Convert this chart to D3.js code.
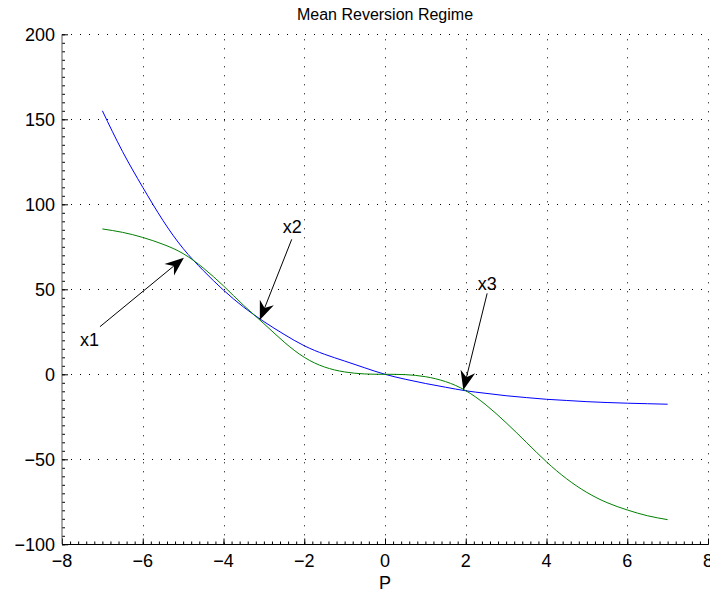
<!DOCTYPE html>
<html>
<head>
<meta charset="utf-8">
<script src="https://cdn.jsdelivr.net/npm/d3@7"></script>
<style>
    body { margin: 0; background: #fff; }
    svg { display: block; font-family: "Liberation Sans", Arial, sans-serif; }
</style>
</head>
<body>
<div id="chart"></div>
<script>
// values
const pValues = [-7, -6.5, -6, -5.5, -5, -4.5, -4, -3.5, -3, -2.5, -2, -1.5, -1, -0.5, 0,
    0.5, 1, 1.5, 2, 2.5, 3, 3.5, 4, 4.5, 5, 5.5, 6, 6.5, 7];
const blueValues = [155, 131, 110, 90.5, 74, 61, 49.5, 39.5, 31, 23.5, 16.8, 11.8, 7.8, 3.8, 0,
    -2.9, -5.4, -7.6, -9.7, -11.2, -12.6, -13.7, -14.7, -15.4, -16.1, -16.6, -17, -17.3, -17.6];
const greenValues = [85.5, 83.5, 80.5, 76.5, 71, 62.5, 52, 40.5, 29.8, 19, 10, 4.3, 1.4, 0.2, 0,
    -0.2, -1.4, -4.3, -9.6, -18, -28.5, -40, -51.5, -61.5, -69.5, -75.5, -79.8, -83.2, -85.5];

const xTicks = [-8, -6, -4, -2, 0, 2, 4, 6, 8];
const yTicks = [-100, -50, 0, 50, 100, 150, 200];

// annotations (data coordinates)
const annLabels = ["x1", "x2", "x3"];
const annTip = [[-4.98, 68.6], [-3.10, 31.9], [1.94, -9.2]];
const annTail = [[-7.06, 28], [-2.31, 79.4], [2.53, 47.6]];
const annText = [[-7.32, 20.2], [-2.30, 86.8], [2.53, 53.5]];

function drawChart() {
    const width = 710;
    const height = 597;
    const margin = { top: 34.3, right: 2, bottom: 52.7, left: 62 };

    const x = d3.scaleLinear()
        .domain([-8, 8])
        .range([margin.left, width - margin.right]);
    const y = d3.scaleLinear()
        .domain([-100, 200])
        .range([height - margin.bottom, margin.top]);

    const svg = d3.select("#chart").append("svg")
        .attr("width", width)
        .attr("height", height);

    svg.append("rect")
        .attr("width", width)
        .attr("height", height)
        .attr("fill", "white");

    // dotted grid
    const grid = svg.append("g")
        .attr("stroke", "#000")
        .attr("stroke-width", 1)
        .attr("stroke-dasharray", "1,8");
    grid.selectAll("line.vx")
        .data(xTicks.slice(1))
        .join("line")
        .attr("x1", d => Math.round(x(d)) + 0.5)
        .attr("x2", d => Math.round(x(d)) + 0.5)
        .attr("y1", y(-100))
        .attr("y2", y(200));
    grid.selectAll("line.hy")
        .data(yTicks.slice(1))
        .join("line")
        .attr("y1", d => Math.round(y(d)) + 0.5)
        .attr("y2", d => Math.round(y(d)) + 0.5)
        .attr("x1", x(-8))
        .attr("x2", x(8));

    // axes (ticks inward, MATLAB style)
    const xAxis = g => g
        .attr("transform", `translate(0,${Math.round(y(-100)) + 0.5})`)
        .call(d3.axisTop(x).tickValues(xTicks).tickSize(6).tickFormat(""))
        .call(g => g.select(".domain").attr("d", `M${x(-8)},0H${x(8)}`));

    const xMinor = g => g
        .attr("transform", `translate(0,${Math.round(y(-100)) + 0.5})`)
        .call(d3.axisTop(x).ticks(80).tickSize(3).tickFormat(""))
        .call(g => g.select(".domain").remove());

    const yAxis = g => g
        .attr("transform", `translate(${x(-8)},0)`)
        .call(d3.axisRight(y).tickValues(yTicks).tickSize(6).tickFormat(""))
        .call(g => g.select(".domain").attr("d", `M0,${y(-100)}V${y(200)}`).attr("stroke", "#555"));

    const yMinor = g => g
        .attr("transform", `translate(${x(-8)},0)`)
        .call(d3.axisRight(y).ticks(60).tickSize(3).tickFormat(""))
        .call(g => g.select(".domain").remove());

    svg.append("g").call(xMinor);
    svg.append("g").call(yMinor);
    svg.append("g").call(xAxis);
    svg.append("g").call(yAxis);

    // tick labels
    const fmt = d => d < 0 ? "\u2212" + Math.abs(d) : String(d);
    svg.append("g")
        .attr("font-size", 18)
        .attr("text-anchor", "middle")
        .selectAll("text")
        .data(xTicks)
        .join("text")
        .attr("x", d => x(d))
        .attr("y", y(-100) + 23)
        .text(fmt);

    svg.append("g")
        .attr("font-size", 18)
        .attr("text-anchor", "end")
        .selectAll("text")
        .data(yTicks)
        .join("text")
        .attr("x", x(-8) - 7)
        .attr("y", d => y(d))
        .attr("dy", "0.36em")
        .text(fmt);

    // labels
    svg.append("text")
        .attr("x", x(0))
        .attr("y", y(-100) + 45)
        .attr("text-anchor", "middle")
        .attr("font-size", 18)
        .text("P");

    svg.append("text")
        .attr("x", x(0))
        .attr("y", 20)
        .attr("text-anchor", "middle")
        .attr("font-size", 16)
        .text("Mean Reversion Regime");

    // curves
    const line = d3.line()
        .x(d => x(d[0]))
        .y(d => y(d[1]))
        .curve(d3.curveNatural);

    svg.append("path")
        .datum(d3.zip(pValues, blueValues))
        .attr("fill", "none")
        .attr("stroke", "#0000ff")
        .attr("stroke-width", 1)
        .attr("d", line);

    svg.append("path")
        .datum(d3.zip(pValues, greenValues))
        .attr("fill", "none")
        .attr("stroke", "#008000")
        .attr("stroke-width", 1)
        .attr("d", line);

    // arrows
    const arrows = svg.append("g");
    annLabels.forEach((label, i) => {
        const tx = x(annTip[i][0]), ty = y(annTip[i][1]);
        const sx = x(annTail[i][0]), sy = y(annTail[i][1]);
        const ang = Math.atan2(ty - sy, tx - sx);
        const len = 19, half = 7.5, notch = 13;
        const pt = (along, side) => [
            tx - along * Math.cos(ang) - side * Math.sin(ang),
            ty - along * Math.sin(ang) + side * Math.cos(ang)
        ];
        arrows.append("line")
            .attr("x1", sx).attr("y1", sy)
            .attr("x2", pt(notch, 0)[0]).attr("y2", pt(notch, 0)[1])
            .attr("stroke", "#000")
            .attr("stroke-width", 1);
        arrows.append("path")
            .attr("d", "M" + [[tx, ty], pt(len, half), pt(notch, 0), pt(len, -half)].join("L") + "Z")
            .attr("fill", "#000");
        arrows.append("text")
            .attr("x", x(annText[i][0]))
            .attr("y", y(annText[i][1]))
            .attr("dy", "0.36em")
            .attr("text-anchor", "middle")
            .attr("font-size", 18)
            .text(label);
    });
}

drawChart();
</script>
</body>
</html>
